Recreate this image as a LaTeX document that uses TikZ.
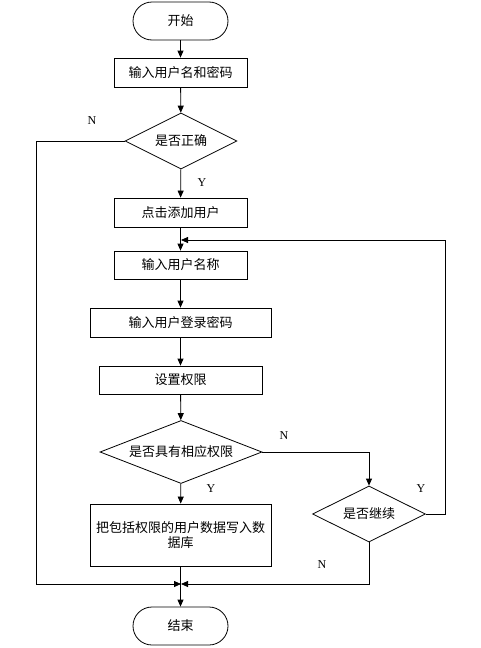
\documentclass[tikz,border=0pt]{standalone}
\usepackage{fontspec}
\setmainfont{Liberation Serif}
\newfontfamily\cjk{Noto Sans CJK SC}
\usetikzlibrary{shapes.geometric, arrows.meta}

\tikzset{
	box/.style = {draw, rectangle, line width = 0.8pt, minimum height = 29pt, inner sep = 0pt},
	terminal/.style = {draw, rectangle, rounded corners = 19pt, line width = 0.8pt, minimum width = 95pt, minimum height = 38pt, inner sep = 0pt},
	decision/.style = {draw, diamond, aspect = 2.5, line width = 0.8pt, inner sep = 0pt},
	yn/.style = {font = \fontsize{12}{12}\selectfont}
}

\begin{document}
\begin{tikzpicture}[x = 1pt, y = -1pt, >={Triangle[length = 7pt, width = 6pt]}, line width = 0.8pt, font = \cjk\fontsize{13}{15}\selectfont]
	%	page
	\useasboundingbox (0, 0) rectangle (481, 648);
	
	\def\xleft{36}
	\def\xright{445}
	\def\yback{240}
	\def\yjoin{584}
	
	%	nodes
	\node[terminal] (start) at (180.5, 21) {开始};
	\node[box, minimum width = 133pt] (login) at (180.5, 72.5) {输入用户名和密码};
	\node[decision, minimum width = 112pt, minimum height = 56pt] (ok) at (181, 141) {是否正确};
	\node[box, minimum width = 133pt] (add) at (180.5, 212.5) {点击添加用户};
	\node[box, minimum width = 133pt, minimum height = 28pt] (uname) at (180.5, 265) {输入用户名称};
	\node[box, minimum width = 181pt] (upwd) at (180.5, 322.5) {输入用户登录密码};
	\node[box, minimum width = 163pt, minimum height = 28pt] (perm) at (180.5, 380) {设置权限};
	\node[decision, minimum width = 162pt, minimum height = 63pt] (hasperm) at (181, 452) {是否具有相应权限};
	\node[box, minimum width = 181pt, minimum height = 62pt, align = center] (write) at (180.5, 535) {把包括权限的用户数据写入数\\据库};
	\node[decision, minimum width = 113pt, minimum height = 56pt] (goon) at (369, 514) {是否继续};
	\node[terminal] (stop) at (180.5, 626) {结束};
	
	%	bends
	\coordinate (back) at (181, \yback);
	\coordinate (join) at (181, \yjoin);
	\coordinate (lft) at (\xleft, \yjoin);
	\coordinate (rgt) at (\xright, \yback);
	
	%	main line
	\draw[->] (start) -- (login);
	\draw[->] (login) -- (ok);
	\draw[->] (ok) -- (add);
	\draw[->] (add) -- (uname);
	\draw[->] (uname) -- (upwd);
	\draw[->] (upwd) -- (perm);
	\draw[->] (perm) -- (hasperm);
	\draw[->] (hasperm) -- (write);
	\draw[->] (write) -- (stop);
	
	%	side lines
	\draw[->] (ok.west) -| (lft) -- (join);
	\draw[->] (hasperm.east) -| (goon.north);
	\draw[->] (goon.east) -| (rgt) -- (back);
	\draw[->] (goon.south) |- (join);
	
	%	labels
	\node[yn] (n1) at (92, 121) {N};
	\node[yn] (y1) at (202, 183) {Y};
	\node[yn] (n2) at (284, 436) {N};
	\node[yn] (y2) at (211, 489) {Y};
	\node[yn] (y3) at (421, 489) {Y};
	\node[yn] (n3) at (322, 565) {N};
\end{tikzpicture}
\end{document}
